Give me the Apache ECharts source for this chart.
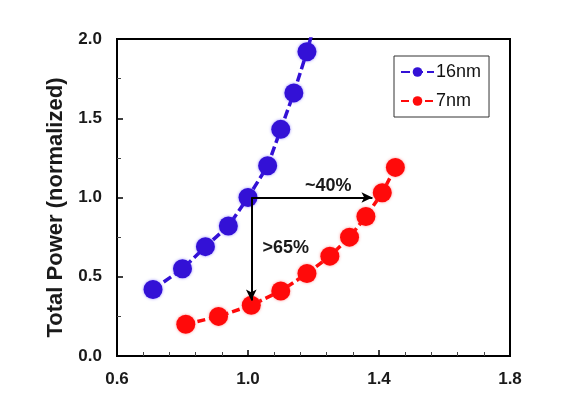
<!DOCTYPE html>
<html>
<head>
<meta charset="utf-8">
<script src="https://cdn.jsdelivr.net/npm/echarts@6/dist/echarts.min.js"></script>
<style>
  html, body { margin: 0; padding: 0; background: #fff; }
  #chart { width: 565px; height: 397px; }
</style>
</head>
<body>
<div id="chart"></div>
<script>
// data
const seriesNames = ['16nm', '7nm'];
const nm16 = [
  [0.71, 0.42], [0.80, 0.55], [0.87, 0.69], [0.94, 0.82], [1.00, 1.00],
  [1.06, 1.20], [1.10, 1.43], [1.14, 1.66], [1.18, 1.92], [1.22, 2.22]
];
const nm7 = [
  [0.81, 0.20], [0.91, 0.25], [1.01, 0.32], [1.10, 0.41], [1.18, 0.52],
  [1.25, 0.63], [1.31, 0.75], [1.36, 0.88], [1.41, 1.03], [1.45, 1.19]
];
const xTicks = [0.6, 1.0, 1.4, 1.8];
const yTicks = [0.0, 0.5, 1.0, 1.5, 2.0];
// arrows: start -> end, in data units
const arrows = [
  [[1.01, 1.0], [1.38, 1.0]],
  [[1.01, 1.0], [1.01, 0.35]]
];
const noteTexts = ['~40%', '>65%'];
const notePos = [[1.245, 1.075], [1.115, 0.68]];

const font = 'Arial, "Liberation Sans", sans-serif';
const blue = '#3311d6';
const red = '#ff0a0a';

const chart = echarts.init(document.getElementById('chart'));

const tickLabel = {
  fontFamily: font, fontSize: 17, fontWeight: 'bold', color: '#1a1a1a', margin: 15,
  formatter: v => v.toFixed(1)
};

chart.setOption({
  animation: false,
  backgroundColor: '#fff',
  textStyle: { fontFamily: font },
  grid: {
    left: 117, right: 55, top: 39, bottom: 41,
    show: true, borderColor: '#000', borderWidth: 2, backgroundColor: 'transparent'
  },
  legend: {
    data: seriesNames,
    orient: 'vertical',
    left: 394, top: 56,
    padding: [7, 8, 7, 6],
    itemWidth: 33, itemHeight: 12,
    itemGap: 11,
    borderColor: '#333', borderWidth: 1,
    textStyle: { fontFamily: font, fontSize: 18, color: '#111', padding: [0, 0, 0, -3] }
  },
  xAxis: {
    type: 'value',
    min: xTicks[0], max: xTicks[xTicks.length - 1], interval: 0.4,
    axisLine: { lineStyle: { color: '#000', width: 2 } },
    axisTick: { inside: true, length: 6, lineStyle: { color: '#000', width: 1.5 } },
    minorTick: { show: true, splitNumber: 5, length: 4, lineStyle: { color: '#444' } },
    splitLine: { show: false },
    axisLabel: tickLabel
  },
  yAxis: {
    type: 'value',
    min: yTicks[0], max: yTicks[yTicks.length - 1], interval: 0.5,
    name: 'Total Power (normalized)',
    nameLocation: 'middle',
    nameGap: 50,
    nameTextStyle: {
      fontFamily: font, fontSize: 22, fontWeight: 'bold', color: '#1a1a1a',
      padding: [0, 20, 0, 0]
    },
    axisLine: { lineStyle: { color: '#000', width: 2 } },
    axisTick: { inside: true, length: 6, lineStyle: { color: '#000', width: 1.5 } },
    minorTick: { show: true, splitNumber: 2, length: 4, lineStyle: { color: '#444' } },
    splitLine: { show: false },
    axisLabel: tickLabel
  },
  series: [
    {
      name: seriesNames[0],
      type: 'line',
      data: nm16,
      symbol: 'circle', symbolSize: 19,
      lineStyle: { color: blue, width: 3.5, type: [9, 4] },
      itemStyle: { color: blue, shadowBlur: 3, shadowColor: 'rgba(80,60,255,0.6)' },
      emphasis: { disabled: true },
      z: 3
    },
    {
      name: seriesNames[1],
      type: 'line',
      data: nm7,
      symbol: 'circle', symbolSize: 19,
      lineStyle: { color: red, width: 3.5, type: [8, 4] },
      itemStyle: { color: red, shadowBlur: 3, shadowColor: 'rgba(255,80,80,0.6)' },
      emphasis: { disabled: true },
      z: 3,
      markLine: {
        silent: true,
        symbol: ['none', 'arrow'],
        symbolSize: [8, 11],
        lineStyle: { color: '#000', width: 2, type: 'solid' },
        label: { show: false },
        data: arrows.map(a => [{ coord: a[0] }, { coord: a[1] }])
      }
    },
    {
      name: 'notes',
      type: 'scatter',
      silent: true,
      data: notePos,
      symbolSize: 1,
      itemStyle: { color: 'rgba(0,0,0,0)', opacity: 1 },
      label: {
        show: true, position: 'inside',
        fontFamily: font, fontSize: 18, fontWeight: 'bold', color: '#1a1a1a',
        formatter: p => noteTexts[p.dataIndex]
      },
      emphasis: { disabled: true },
      z: 5
    }
  ]
});
</script>
</body>
</html>
